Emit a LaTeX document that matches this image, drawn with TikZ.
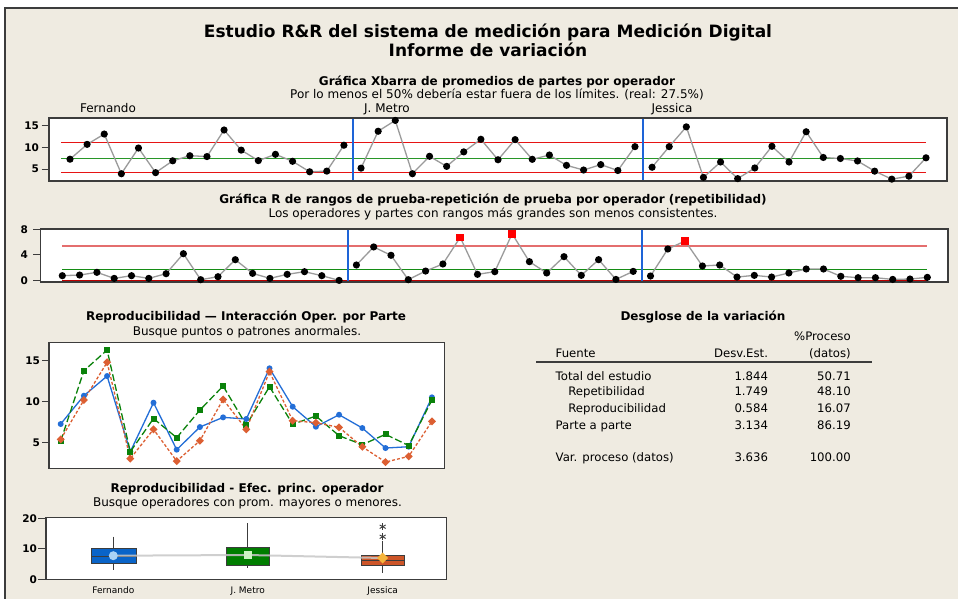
\documentclass[tikz,border=0pt]{standalone}
\usepackage{fontspec}
\setmainfont{DejaVu Sans}
\usetikzlibrary{shapes.geometric}
\definecolor{bg}{RGB}{239,235,225}
\definecolor{frm}{RGB}{60,60,60}
\definecolor{ucl}{RGB}{230,20,20}
\definecolor{ctr}{RGB}{40,150,40}
\definecolor{sep}{RGB}{30,100,215}
\definecolor{pline}{RGB}{155,155,155}
\definecolor{rucl}{RGB}{228,110,110}
\definecolor{rlcl}{RGB}{190,0,0}
\definecolor{rctr}{RGB}{20,140,20}
\definecolor{cF}{RGB}{35,110,215}
\definecolor{cJ}{RGB}{10,130,10}
\definecolor{cE}{RGB}{220,95,50}
\definecolor{bF}{RGB}{10,100,200}
\definecolor{bJ}{RGB}{0,125,0}
\definecolor{bE}{RGB}{205,85,40}
\definecolor{mF}{RGB}{170,210,245}
\definecolor{mJ}{RGB}{205,242,195}
\definecolor{mE}{RGB}{245,180,60}
\def\dF{7.28,10.73,13.13,3.90,9.88,4.15,6.91,8.09,7.89,14.07,9.39,6.95,8.41,6.79,4.35,4.51,10.53}
\def\dJ{5.20,13.78,16.30,3.90,7.95,5.61,8.98,11.91,7.15,11.83,7.25,8.25,5.85,4.76,6.02,4.65,10.20}
\def\dE{5.41,10.20,14.80,3.05,6.63,2.76,5.24,10.28,6.63,13.66,7.68,7.44,6.87,4.50,2.64,3.33,7.60}
\def\rF{0.78,0.88,1.3,0.36,0.78,0.36,1.09,4.2,0.16,0.62,3.27,1.14,0.36,0.99,1.4,0.78,0.05}
\def\rJ{2.44,5.25,3.95,0.16,1.5,2.6,6.75,0.99,1.4,7.3,2.96,1.2,3.74,0.83,3.27,0.2,1.45}
\def\rE{0.73,4.93,6.18,2.29,2.44,0.57,0.83,0.57,1.2,1.82,1.82,0.68,0.47,0.47,0.2,0.26,0.52}
\begin{document}
\begin{tikzpicture}[x=1pt,y=-1pt,
  every node/.style={inner sep=0pt,outer sep=0pt},
  ttl/.style={font=\fontsize{17}{20}\selectfont\bfseries,anchor=base},
  sec/.style={font=\fontsize{12}{14}\selectfont\bfseries,anchor=base},
  sub/.style={font=\fontsize{12}{14}\selectfont,anchor=base},
  tk/.style={font=\fontsize{10.5}{13}\selectfont\bfseries,anchor=base east},
  cat/.style={font=\fontsize{9}{11}\selectfont,anchor=base},
  tl/.style={font=\fontsize{11.7}{14}\selectfont,anchor=base west},
  tr/.style={font=\fontsize{11.7}{14}\selectfont,anchor=base east},
  frame/.style={fill=white,draw=frm,line width=1.2pt},
  tick/.style={draw=frm,line width=1pt},
  ln/.style={draw=pline,line width=1.3pt},
  dot/.style={fill=black},
  rsq/.style={rectangle,fill=red,minimum size=7.5pt},
  gsq/.style={rectangle,fill=cJ,minimum size=6pt},
  odm/.style={diamond,fill=cE,minimum size=8pt},
  whisk/.style={draw=frm,line width=1pt},
  bx/.style={draw=frm,line width=1pt}]
\useasboundingbox (0,0) rectangle (958,599);
\fill[white] (0,0) rectangle (958,599);
\fill[bg] (5,8) rectangle (958,599);
\draw[frm,line width=1.2pt] (5,599) -- (5,8) -- (958,8);
% titles
\node[ttl] (t1) at (488,37.9) {Estudio R\&R del sistema de medición para Medición Digital};
\node[ttl] (t2) at (488,57) {Informe de variación};
% ===== Xbar chart =====
\node[sec] (xt) at (497,85.5) {Gráfica Xbarra de promedios de partes por operador};
\node[sub] (xs) at (497,99) {Por lo menos el 50\% debería estar fuera de los límites. (real: 27.5\%)};
\node[sub] (opF) at (108,113) {Fernando};
\node[sub] (opJ) at (387,113) {J. Metro};
\node[sub] (opE) at (672,113) {Jessica};
\draw[frame] (49,118) rectangle (947,181);
\foreach \v in {15,10,5}{
  \draw[tick] (41.5,{169-(\v-5)*4.3}) -- (49,{169-(\v-5)*4.3});
  \node[tk] (xtk\v) at (39,{169-(\v-5)*4.3+3.8}) {\v};}
\draw[ucl,line width=1.2pt] (61,142.3) -- (926,142.3);
\draw[ctr,line width=1.2pt] (61,158.3) -- (926,158.3);
\draw[ucl,line width=1.2pt] (61,172.7) -- (926,172.7);
\draw[sep,line width=1.1pt] (353,118.6) -- (353,180.4);
\draw[sep,line width=1.1pt] (643,118.6) -- (643,180.4);
\foreach \v [count=\k from 0] in \dF {\coordinate (xb\k) at ({70+17.12*\k},{169-(\v-5)*4.3});}
\foreach \v [count=\k from 17] in \dJ {\coordinate (xb\k) at ({70+17.12*\k},{169-(\v-5)*4.3});}
\foreach \v [count=\k from 34] in \dE {\coordinate (xb\k) at ({70+17.12*\k},{169-(\v-5)*4.3});}
\draw[ln] (xb0) \foreach \k in {1,...,16}{ -- (xb\k)};
\draw[ln] (xb17) \foreach \k in {18,...,33}{ -- (xb\k)};
\draw[ln] (xb34) \foreach \k in {35,...,50}{ -- (xb\k)};
\foreach \k in {0,...,50}{\fill[dot] (xb\k) circle (3.6pt);}
% ===== R chart =====
\node[sec] (rt) at (493,203.5) {Gráfica R de rangos de prueba-repetición de prueba por operador (repetibilidad)};
\node[sub] (rs) at (493,217.5) {Los operadores y partes con rangos más grandes son menos consistentes.};
\draw[frame] (40.5,229) rectangle (948,282);
\foreach \v in {8,4,0}{
  \draw[tick] (33,{280.7-6.43*\v}) -- (40.5,{280.7-6.43*\v});
  \node[tk] (rtk\v) at (28,{280.7-6.43*\v+3.8}) {\v};}
\draw[rucl,line width=1.3pt] (62,246) -- (927,246);
\draw[rctr,line width=1.2pt] (62,269.3) -- (927,269.3);
\draw[rlcl,line width=1.2pt] (62,280.7) -- (927,280.7);
\draw[sep,line width=1.1pt] (348,229.6) -- (348,281.4);
\draw[sep,line width=1.1pt] (642,229.6) -- (642,281.4);
\foreach \v [count=\k from 0] in \rF {\coordinate (rb\k) at ({62.3+17.3*\k},{280.7-6.43*\v});}
\foreach \v [count=\k from 17] in \rJ {\coordinate (rb\k) at ({62.3+17.3*\k},{280.7-6.43*\v});}
\foreach \v [count=\k from 34] in \rE {\coordinate (rb\k) at ({62.3+17.3*\k},{280.7-6.43*\v});}
\draw[ln] (rb0) \foreach \k in {1,...,16}{ -- (rb\k)};
\draw[ln] (rb17) \foreach \k in {18,...,33}{ -- (rb\k)};
\draw[ln] (rb34) \foreach \k in {35,...,50}{ -- (rb\k)};
\foreach \k in {0,...,22,24,25,27,28,...,35,37,38,...,50}{\fill[dot] (rb\k) circle (3.6pt);}
\foreach \k in {23,26,36}{\node[rsq] (rsq\k) at (rb\k) {};}
% ===== Interaction plot =====
\node[sec] (it) at (246,320.5) {Reproducibilidad — Interacción Oper. por Parte};
\node[sub] (is) at (247,335.5) {Busque puntos o patrones anormales.};
\draw[frame] (49,342.7) rectangle (444.3,468.3);
\foreach \v in {15,10,5}{
  \draw[tick] (42,{442.7-8.2*(\v-5)}) -- (49,{442.7-8.2*(\v-5)});
  \node[tk] (itk\v) at (40,{442.7-8.2*(\v-5)+3.8}) {\v};}
\foreach \v [count=\k from 0] in \dF {\coordinate (iF\k) at ({60.7+23.2*\k},{442.7-8.2*(\v-5)});}
\foreach \v [count=\k from 0] in \dJ {\coordinate (iJ\k) at ({60.7+23.2*\k},{442.7-8.2*(\v-5)});}
\foreach \v [count=\k from 0] in \dE {\coordinate (iE\k) at ({60.7+23.2*\k},{442.7-8.2*(\v-5)});}
\draw[cF,line width=1.3pt] (iF0) \foreach \k in {1,...,16}{ -- (iF\k)};
\draw[cJ,line width=1.3pt,dash pattern=on 7pt off 3pt] (iJ0) \foreach \k in {1,...,16}{ -- (iJ\k)};
\draw[cE,line width=1.3pt,dash pattern=on 3pt off 2pt] (iE0) \foreach \k in {1,...,16}{ -- (iE\k)};
\foreach \k in {0,...,16}{
  \fill[cF] (iF\k) circle (3pt);
  \node[gsq] (gJ\k) at (iJ\k) {};
  \node[odm] (dE\k) at (iE\k) {};}
% ===== Table =====
\node[sec] (tt) at (703,320) {Desglose de la variación};
\node[tr] (h1) at (850.7,340.5) {\%Proceso};
\node[tr] (h2) at (850.7,357) {(datos)};
\node[tl] (h3) at (555.7,357) {Fuente};
\node[tr] (h4) at (768,357) {Desv.Est.};
\draw[frm,line width=1.8pt] (536,362.3) -- (871.7,362.3);
\node[tl] (a1) at (555.7,380.5) {Total del estudio};
\node[tr] (b1) at (768,380.5) {1.844};
\node[tr] (c1) at (850.7,380.5) {50.71};
\node[tl] (a2) at (568.3,395.5) {Repetibilidad};
\node[tr] (b2) at (768,395.5) {1.749};
\node[tr] (c2) at (850.7,395.5) {48.10};
\node[tl] (a3) at (568.3,412) {Reproducibilidad};
\node[tr] (b3) at (768,412) {0.584};
\node[tr] (c3) at (850.7,412) {16.07};
\node[tl] (a4) at (555.7,429.5) {Parte a parte};
\node[tr] (b4) at (768,429.5) {3.134};
\node[tr] (c4) at (850.7,429.5) {86.19};
\node[tl] (a5) at (555.7,461) {Var. proceso (datos)};
\node[tr] (b5) at (768,461) {3.636};
\node[tr] (c5) at (850.7,461) {100.00};
% ===== Boxplot =====
\node[sec] (bt) at (247,492.5) {Reproducibilidad - Efec. princ. operador};
\node[sub] (bs) at (247.5,506) {Busque operadores con prom. mayores o menores.};
\draw[frame] (46,517.7) rectangle (446.7,579.3);
\foreach \v in {20,10,0}{
  \draw[tick] (38,{579.3-3.05*\v}) -- (46,{579.3-3.05*\v});
  \node[tk] (btk\v) at (37,{579.3-3.05*\v+3.8}) {\v};}
% Fernando
\draw[whisk] (113.3,536.7) -- (113.3,548.3) (113.3,563) -- (113.3,570);
\filldraw[fill=bF,bx] (91.7,548.3) rectangle (136.7,563);
\draw[frm,line width=1pt] (91.7,556) -- (136.7,556);
% J. Metro
\draw[whisk] (247.7,523.3) -- (247.7,547.3) (247.7,565.7) -- (247.7,568.3);
\filldraw[fill=bJ,bx] (226.7,547.3) rectangle (269.3,565.7);
\draw[frm,line width=1pt] (226.7,555.5) -- (269.3,555.5);
% Jessica
\draw[whisk] (382.7,540.7) -- (382.7,555.7) (382.7,565.7) -- (382.7,572.7);
\filldraw[fill=bE,bx] (361.7,555.7) rectangle (404.3,565.7);
\draw[frm,line width=1pt] (361.7,560.3) -- (404.3,560.3);
\foreach \yy [count=\q] in {526.7,536.7}{
  \coordinate (out\q) at (382.7,\yy);
  \draw[frm,line width=0.9pt] (out\q) ++(0,-3.5) -- ++(0,7);
  \draw[frm,line width=0.9pt] (out\q) ++(-3,-1.75) -- ++(6,3.5);
  \draw[frm,line width=0.9pt] (out\q) ++(-3,1.75) -- ++(6,-3.5);}
% means
\coordinate (mFc) at (113.3,555.7);
\coordinate (mJc) at (247.7,555);
\coordinate (mEc) at (382.7,558);
\draw[black!22,line width=2pt,opacity=0.85] (mFc) -- (mJc) -- (mEc);
\fill[mF] (mFc) circle (4.5pt);
\node[rectangle,fill=mJ,minimum size=8pt] (mJn) at (mJc) {};
\node[diamond,fill=mE,minimum size=11pt] (mEn) at (mEc) {};
\node[cat] (cF1) at (113.3,593.5) {Fernando};
\node[cat] (cJ1) at (247.7,593.5) {J. Metro};
\node[cat] (cE1) at (382.7,593.5) {Jessica};
\end{tikzpicture}
\end{document}
